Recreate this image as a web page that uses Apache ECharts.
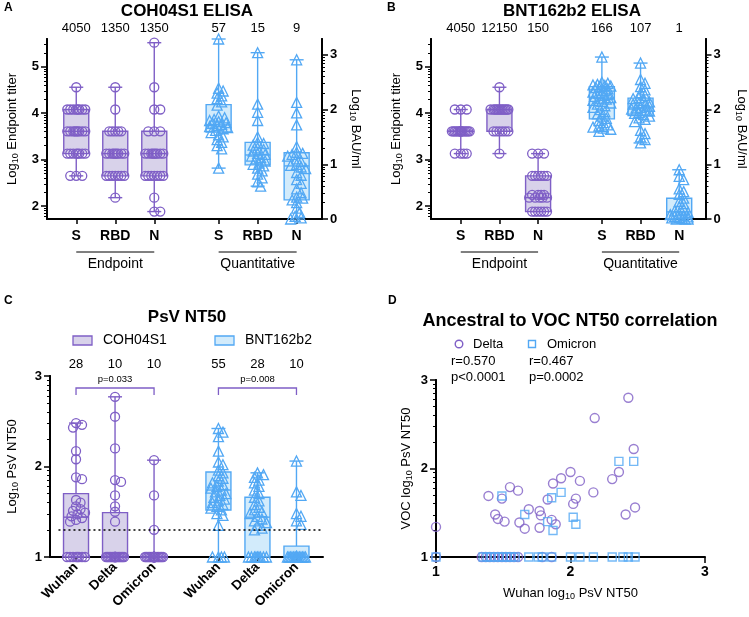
<!DOCTYPE html>
<html><head><meta charset="utf-8">
<script src="https://cdn.jsdelivr.net/npm/echarts@6/dist/echarts.min.js"></script>
<style>html,body{margin:0;padding:0;background:#fff}#c{width:749px;height:617px}</style>
</head><body><div id="c"></div>
<script>
// ---------------- DATA ----------------
const ELISA_CATS = ['S','RBD','N','S','RBD','N'];
const ELISA_GROUPS = ['Endpoint','Quantitative'];
const NT_CATS = ['Wuhan','Delta','Omicron','Wuhan','Delta','Omicron'];
const A_GMT = ['4050','1350','1350','57','15','9'];
const B_GMT = ['4050','12150','150','166','107','1'];
const C_GMT = ['28','10','10','55','28','10'];
const C_PVALS = ['p=0.033','p=0.008'];
const LEFT_TICKS = [2,3,4,5];
const RIGHT_TICKS = [0,1,2,3];
const NT_TICKS = [1,2,3];
const LOD = 1.30;

// Panel A – COH04S1 ELISA (endpoint: log10 titer; quantitative: log10 BAU/ml)
const A_END_S   = [4.56,4.08,4.08,4.08,4.08,4.08,4.08,4.08,4.08,3.61,3.61,3.61,3.61,3.61,3.61,3.61,3.61,3.61,3.13,3.13,3.13,3.13,3.13,3.13,3.13,3.13,2.65,2.65,2.65];
const A_END_RBD = [4.56,4.08,3.61,3.61,3.61,3.61,3.61,3.13,3.13,3.13,3.13,3.13,3.13,3.13,3.13,3.13,2.65,2.65,2.65,2.65,2.65,2.65,2.65,2.18];
const A_END_N   = [5.52,4.56,4.08,4.08,3.61,3.61,3.61,3.13,3.13,3.13,3.13,3.13,3.13,3.13,3.13,3.13,2.65,2.65,2.65,2.65,2.65,2.65,2.65,2.18,1.88,1.88];
const A_QNT_S   = [3.29,2.39,2.34,2.30,2.25,2.20,2.14,2.08,1.88,1.85,1.82,1.80,1.78,1.76,1.75,1.73,1.71,1.69,1.67,1.65,1.62,1.58,1.54,1.50,1.45,1.40,1.34,1.28,0.93];
const A_QNT_RBD = [3.04,2.10,1.95,1.80,1.50,1.40,1.38,1.35,1.30,1.27,1.24,1.20,1.18,1.15,1.12,1.10,1.06,1.02,1.00,0.97,0.93,0.88,0.82,0.75,0.68,0.60];
const A_QNT_N   = [2.91,2.13,1.94,1.72,1.32,1.22,1.20,1.18,1.15,1.10,1.05,1.00,0.98,0.95,0.92,0.85,0.80,0.72,0.65,0.55,0.48,0.40,0.38,0.35,0.30,0.20,0.12,0.05,0.02,0.00];
// box stats [min, q1, median, q3, max]
const A_BOX = [[2.65,3.13,3.61,4.08,4.56],[2.18,2.65,3.13,3.61,4.56],[1.88,2.65,3.13,3.61,5.52],
               [0.93,1.59,1.72,2.09,3.29],[0.60,0.99,1.17,1.40,3.04],[0.00,0.35,0.97,1.21,2.91]];

// Panel B – BNT162b2 ELISA
const B_END_S   = [4.08,4.08,4.08,3.61,3.61,3.61,3.61,3.61,3.61,3.61,3.61,3.61,3.61,3.61,3.61,3.61,3.61,3.61,3.61,3.13,3.13,3.13,3.13];
const B_END_RBD = [4.56,4.08,4.08,4.08,4.08,4.08,4.08,4.08,4.08,4.08,4.08,4.08,4.08,3.61,3.61,3.61,3.61,3.61,3.61,3.13];
const B_END_N   = [3.13,3.13,3.13,2.65,2.65,2.65,2.65,2.65,2.65,2.24,2.24,2.24,2.24,2.18,2.18,2.18,2.18,2.18,1.88,1.88,1.88,1.88,1.88,1.88];
const B_QNT_S   = [2.96,2.50,2.48,2.46,2.45,2.44,2.43,2.42,2.40,2.38,2.35,2.32,2.30,2.28,2.26,2.24,2.22,2.21,2.19,2.17,2.15,2.12,2.10,2.07,2.04,2.00,1.96,1.92,1.88,1.84,1.80,1.76,1.72,1.70,1.68,1.66,1.64,1.60];
const B_QNT_RBD = [2.85,2.55,2.48,2.42,2.36,2.31,2.26,2.22,2.20,2.17,2.14,2.12,2.10,2.08,2.06,2.04,2.03,2.01,1.99,1.97,1.95,1.93,1.91,1.88,1.85,1.82,1.78,1.62,1.56,1.50,1.45,1.39];
const B_QNT_N   = [0.90,0.78,0.72,0.55,0.50,0.45,0.38,0.32,0.28,0.22,0.18,0.15,0.12,0.10,0.08,0.06,0.05,0.04,0.03,0.02,0.01,0.00,0.00,0.00];
const B_BOX = [[3.13,3.61,3.61,3.61,4.08],[3.13,3.61,4.08,4.08,4.56],[1.88,1.88,2.18,2.65,3.13],
               [1.60,1.83,2.21,2.42,2.96],[1.39,1.89,2.03,2.21,2.85],[0.00,0.00,0.13,0.38,0.90]];

// Panel C – PsV NT50 (log10)
const C_COH_WUHAN = [2.48,2.46,2.43,2.17,2.08,1.88,1.86,1.63,1.60,1.56,1.53,1.51,1.49,1.47,1.45,1.43,1.41,1.39,1,1,1,1,1,1,1,1];
const C_COH_DELTA = [2.77,2.55,2.20,1.85,1.83,1.68,1.56,1.50,1.39,1,1,1,1,1,1,1,1,1,1,1,1,1,1,1,1,1];
const C_COH_OMI   = [2.07,1.68,1.30,1,1,1,1,1,1,1,1,1,1,1,1,1,1,1,1,1,1,1,1,1,1,1];
const C_BNT_WUHAN = [2.42,2.38,2.33,2.17,2.05,2.02,1.96,1.93,1.90,1.87,1.84,1.82,1.80,1.78,1.76,1.74,1.72,1.70,1.68,1.66,1.64,1.62,1.60,1.58,1.56,1.54,1.52,1.48,1.46,1.35,1,1,1,1];
const C_BNT_DELTA = [1.93,1.91,1.88,1.85,1.82,1.78,1.74,1.70,1.66,1.62,1.58,1.55,1.52,1.50,1.48,1.45,1.42,1.40,1.38,1.35,1.32,1.30,1,1,1,1,1,1,1,1,1];
const C_BNT_OMI   = [2.06,1.72,1.68,1.48,1.45,1.40,1.36,1,1,1,1,1,1,1,1,1,1,1,1,1,1,1,1,1,1,1,1,1,1,1,1];
const C_BOX = [[1,1,1.44,1.70,2.48],[1,1,1,1.49,2.77],[1,1,1,1,2.07],
               [1,1.52,1.74,1.94,2.42],[1,1,1.44,1.66,1.93],[1,1,1,1.12,2.06]];

// Panel D – Wuhan vs VOC NT50
const D_DELTA_WUHAN = [1.00,1.39,1.49,1.55,1.61,1.44,1.46,1.51,1.62,1.66,1.69,1.77,1.78,1.77,1.83,1.87,1.93,1.86,1.89,2.00,2.07,2.02,2.04,2.17,2.31,2.36,2.41,2.48,2.47,2.18,2.43,
                       1.00,1.34,1.37,1.40,1.43,1.46,1.49,1.52,1.55,1.58,1.61,1.79,1.86];
const D_DELTA_VOC   = [1.34,1.69,1.66,1.79,1.75,1.48,1.43,1.40,1.39,1.32,1.54,1.52,1.47,1.33,1.65,1.83,1.89,1.42,1.37,1.96,1.86,1.60,1.66,1.73,1.88,1.96,1.48,1.56,2.22,2.57,2.80,
                       1,1,1,1,1,1,1,1,1,1,1,1,1];
const D_OMI_WUHAN = [1.49,1.66,1.83,1.87,1.86,1.93,2.02,2.04,2.36,2.47,
                     1.00,1.35,1.38,1.41,1.44,1.47,1.50,1.53,1.56,1.59,1.69,1.76,1.79,1.86,2.00,2.07,2.17,2.31,2.39,2.43,2.48];
const D_OMI_VOC   = [1.69,1.48,1.40,1.30,1.67,1.73,1.45,1.37,2.08,2.08,
                     1,1,1,1,1,1,1,1,1,1,1,1,1,1,1,1,1,1,1,1,1];
const D_STATS = [['Delta','r=0.570','p<0.0001'],['Omicron','r=0.467','p=0.0002']];

// ---------------- STYLE / LAYOUT ----------------
const FONT = '"Liberation Sans", Arial, Helvetica, sans-serif';
const PURPLE = '#7f5fc6';
const PURPLE_FILL = '#d8d2ea';
const BLUE = '#52a8f4';
const BLUE_FILL = '#d2ebfb';
const POS = [1,2,3,4.65,5.65,6.65];
const PX_X = 39;

function logMinor(min, max){
  const out=[];
  for(let d=Math.floor(min); d<Math.ceil(max); d++){
    for(let k=2;k<=9;k++){ const v=d+Math.log10(k); if(v>min+1e-6 && v<max-1e-6) out.push(+v.toFixed(4)); }
  }
  return out;
}
const subRich = {
  n:{fontSize:13, fontFamily:FONT, color:'#000', lineHeight:16},
  s:{fontSize:9, fontFamily:FONT, color:'#000', verticalAlign:'bottom'}
};
function yPair(gridIndex, min, max, position, majors, name, nameGap, nameRotate){
  const common = {type:'value', gridIndex, min, max, position, splitLine:{show:false}};
  return [
    Object.assign({}, common, {
      axisLine:{show:true, onZero:false, lineStyle:{color:'#000', width:2}},
      axisTick:{show:true, customValues:majors, length:6, lineStyle:{color:'#000', width:1.5}},
      axisLabel:{show:true, customValues:majors, color:'#000', fontFamily:FONT, fontWeight:'bold', fontSize:13, margin:8},
      name, nameLocation:'middle', nameGap, nameRotate,
      nameTextStyle:{rich:subRich, color:'#000'}
    }),
    Object.assign({}, common, {
      axisLine:{show:true, onZero:false, lineStyle:{color:'#000', width:2}},
      axisTick:{show:true, customValues:logMinor(min,max), length:3, lineStyle:{color:'#000', width:1}},
      axisLabel:{show:false}
    })
  ];
}
function nearestIdx(v){ let bi=0,bd=1e9; POS.forEach((p,i)=>{const d=Math.abs(p-v); if(d<bd){bd=d;bi=i;}}); return bi; }
function xCat(gridIndex, min, max, names, rotate){
  return {type:'value', gridIndex, min, max, splitLine:{show:false},
    axisLine:{onZero:false, lineStyle:{color:'#000', width:2}},
    axisTick:{customValues:POS, length:5, lineStyle:{color:'#000', width:1.5}},
    axisLabel:{customValues:POS, formatter:v=>names[nearestIdx(v)], color:'#000', fontFamily:FONT,
      fontWeight:'bold', fontSize:rotate?13.5:14, margin:rotate?8:10, rotate:rotate||0}};
}

function swarm(vals, pxY, minDist, maxHalf){
  const n=vals.length, offs=new Array(n).fill(0);
  const order=vals.map((v,i)=>i).sort((a,b)=>vals[b]-vals[a]||a-b);
  const step=1.5, cands=[0];
  for(let s=step;s<=maxHalf+1e-9;s+=step){cands.push(s);cands.push(-s);}
  const placed=[];
  for(const i of order){
    const y=vals[i]*pxY; let best=0,bestD=-1;
    for(const c of cands){
      let md=Infinity;
      for(const p of placed){const d=Math.hypot(c-p[0],y-p[1]); if(d<md)md=d;}
      if(md>=minDist){best=c;bestD=md;break;}
      if(md>bestD){bestD=md;best=c;}
    }
    offs[i]=best; placed.push([best,y]);
  }
  return offs;
}
function pts(xi, yi, pos, vals, pxY, symbol, color, size){
  const offs=swarm(vals, pxY, 5, 10);
  return {type:'scatter', xAxisIndex:xi, yAxisIndex:yi, symbol, symbolSize:size, silent:true, z:4,
    data: vals.map((v,i)=>[pos+offs[i]/PX_X, v]),
    itemStyle:{color:'rgba(0,0,0,0)', borderColor:color, borderWidth:1.3, opacity:1}};
}
function boxes(xi, yi, posList, stats, stroke, fill){
  return {type:'custom', xAxisIndex:xi, yAxisIndex:yi, silent:true, z:2,
    data: stats.map((s,i)=>[posList[i]].concat(s)),
    renderItem(params, api){
      const x=api.value(0);
      const pLo=api.coord([x,api.value(1)]), pQ1=api.coord([x,api.value(2)]), pMed=api.coord([x,api.value(3)]),
            pQ3=api.coord([x,api.value(4)]), pHi=api.coord([x,api.value(5)]);
      const hw=12.5, cw=7, ls={stroke, lineWidth:1.4};
      return {type:'group', children:[
        {type:'line', shape:{x1:pLo[0],y1:pLo[1],x2:pQ1[0],y2:pQ1[1]}, style:ls},
        {type:'line', shape:{x1:pQ3[0],y1:pQ3[1],x2:pHi[0],y2:pHi[1]}, style:ls},
        {type:'rect', shape:{x:pQ3[0]-hw, y:pQ3[1], width:2*hw, height:Math.max(pQ1[1]-pQ3[1],0.01)}, style:{fill, stroke, lineWidth:1.4}},
        {type:'line', shape:{x1:pMed[0]-hw,y1:pMed[1],x2:pMed[0]+hw,y2:pMed[1]}, style:ls},
        {type:'line', shape:{x1:pLo[0]-cw,y1:pLo[1],x2:pLo[0]+cw,y2:pLo[1]}, style:ls},
        {type:'line', shape:{x1:pHi[0]-cw,y1:pHi[1],x2:pHi[0]+cw,y2:pHi[1]}, style:ls}
      ]};
    }};
}

// ---------------- OPTION ----------------
const AB_LEFT = [1.72, 5.60], AB_RIGHT = [0, 3.29];
const PXY_L = 180/(AB_LEFT[1]-AB_LEFT[0]), PXY_R = 180/(AB_RIGHT[1]-AB_RIGHT[0]), PXY_C = 181/2;
const yA = yPair(0, AB_LEFT[0], AB_LEFT[1], 'left', LEFT_TICKS, '{n|Log}{s|10}{n| Endpoint titer}', 27, 90)
  .concat(yPair(0, AB_RIGHT[0], AB_RIGHT[1], 'right', RIGHT_TICKS, '{n|Log}{s|10}{n| BAU/ml}', 26, -90));
const yB = yPair(1, AB_LEFT[0], AB_LEFT[1], 'left', LEFT_TICKS, '{n|Log}{s|10}{n| Endpoint titer}', 27, 90)
  .concat(yPair(1, AB_RIGHT[0], AB_RIGHT[1], 'right', RIGHT_TICKS, '{n|Log}{s|10}{n| BAU/ml}', 28, -90));
const yC = yPair(2, 1, 3, 'left', NT_TICKS, '{n|Log}{s|10}{n| PsV NT50}', 30, 90);
const yD = yPair(3, 1, 3, 'left', NT_TICKS, '{n|VOC log}{s|10}{n| PsV NT50}', 22, 90);

const xD = {type:'value', gridIndex:3, min:1, max:3, splitLine:{show:false},
  axisLine:{onZero:false, lineStyle:{color:'#000', width:2}},
  axisTick:{customValues:NT_TICKS, length:6, lineStyle:{color:'#000', width:1.5}},
  axisLabel:{customValues:NT_TICKS, color:'#000', fontFamily:FONT, fontWeight:'bold', fontSize:14, margin:8},
  name:'{n|Wuhan log}{s|10}{n| PsV NT50}', nameLocation:'middle', nameGap:28, nameTextStyle:{rich:subRich, color:'#000'}};

const A_END = [A_END_S, A_END_RBD, A_END_N], A_QNT = [A_QNT_S, A_QNT_RBD, A_QNT_N];
const B_END = [B_END_S, B_END_RBD, B_END_N], B_QNT = [B_QNT_S, B_QNT_RBD, B_QNT_N];
const C_COH = [C_COH_WUHAN, C_COH_DELTA, C_COH_OMI], C_BNT = [C_BNT_WUHAN, C_BNT_DELTA, C_BNT_OMI];

const series = [];
// Panel A
series.push(boxes(0,0,POS.slice(0,3),A_BOX.slice(0,3),PURPLE,PURPLE_FILL));
series.push(boxes(0,2,POS.slice(3),A_BOX.slice(3),BLUE,BLUE_FILL));
A_END.forEach((v,i)=>series.push(pts(0,0,POS[i],v,PXY_L,'circle',PURPLE,9)));
A_QNT.forEach((v,i)=>series.push(pts(0,2,POS[i+3],v,PXY_R,'triangle',BLUE,10)));
// Panel B
series.push(boxes(1,4,POS.slice(0,3),B_BOX.slice(0,3),PURPLE,PURPLE_FILL));
series.push(boxes(1,6,POS.slice(3),B_BOX.slice(3),BLUE,BLUE_FILL));
B_END.forEach((v,i)=>series.push(pts(1,4,POS[i],v,PXY_L,'circle',PURPLE,9)));
B_QNT.forEach((v,i)=>series.push(pts(1,6,POS[i+3],v,PXY_R,'triangle',BLUE,10)));
// Panel C
series.push(boxes(2,8,POS.slice(0,3),C_BOX.slice(0,3),PURPLE,PURPLE_FILL));
series.push(boxes(2,8,POS.slice(3),C_BOX.slice(3),BLUE,BLUE_FILL));
C_COH.forEach((v,i)=>series.push(pts(2,8,POS[i],v,PXY_C,'circle',PURPLE,9)));
C_BNT.forEach((v,i)=>series.push(pts(2,8,POS[i+3],v,PXY_C,'triangle',BLUE,10)));
series.push({type:'line', xAxisIndex:2, yAxisIndex:8, data:[], silent:true, z:5,
  markLine:{silent:true, symbol:['none','none'], label:{show:false},
    lineStyle:{color:'#000', type:[2,3], width:1.6},
    data:[[{coord:[0.55, LOD]},{coord:[7.33, LOD]}]]}});
// Panel D
series.push({type:'scatter', xAxisIndex:3, yAxisIndex:10, symbol:'circle', symbolSize:9, silent:true, z:4,
  data:D_DELTA_WUHAN.map((x,i)=>[x, D_DELTA_VOC[i]]),
  itemStyle:{color:'rgba(0,0,0,0)', borderColor:PURPLE, borderWidth:1.4}});
series.push({type:'scatter', xAxisIndex:3, yAxisIndex:10, symbol:'rect', symbolSize:8, silent:true, z:5,
  data:D_OMI_WUHAN.map((x,i)=>[x, D_OMI_VOC[i]]),
  itemStyle:{color:'rgba(0,0,0,0)', borderColor:BLUE, borderWidth:1.4}});

const option = {
  animation:false,
  backgroundColor:'#fff',
  textStyle:{fontFamily:FONT},
  grid:[
    {left:47, top:39, width:275, height:180},
    {left:431, top:39, width:277, height:180},
    {left:50, top:376, width:273, height:181},
    {left:436, top:380, width:269, height:177}
  ],
  xAxis:[
    xCat(0, 0.25, 7.30, ELISA_CATS),
    xCat(1, 0.23, 7.33, ELISA_CATS),
    xCat(2, 0.333, 7.33, NT_CATS, 45),
    xD
  ],
  yAxis: yA.concat(yB, yC, yD),
  series
};

const chart = echarts.init(document.getElementById('c'), null, {width:749, height:617});
chart.setOption(option);

// ---------------- ANNOTATIONS ----------------
const g = [];
function T(x, y, text, size, weight, align, extra){
  g.push({type:'text', x, y, silent:true, style:Object.assign({text, fill:'#000', fontFamily:FONT, fontSize:size,
    fontWeight:weight||'normal', align:align||'center', verticalAlign:'middle'}, extra||{})});
}
function L(x1,y1,x2,y2,stroke,w){ g.push({type:'line', silent:true, shape:{x1,y1,x2,y2}, style:{stroke:stroke||'#000', lineWidth:w||1}}); }
const cx = (xi, v) => chart.convertToPixel({xAxisIndex:xi}, v);

// panel letters & titles
T(4,8,'A',12,'bold','left'); T(387,8,'B',12,'bold','left');
T(4,301,'C',12,'bold','left'); T(388,301,'D',12,'bold','left');
T(187,11,'COH04S1 ELISA',17,'bold'); T(572,11,'BNT162b2 ELISA',17,'bold');
T(187,317,'PsV NT50',17,'bold'); T(570,321,'Ancestral to VOC NT50 correlation',18,'bold');

// GMT rows
A_GMT.forEach((t,i)=>T(cx(0,POS[i]),28,t,13));
B_GMT.forEach((t,i)=>T(cx(1,POS[i]),28,t,13));
C_GMT.forEach((t,i)=>T(cx(2,POS[i]),364,t,13));

// group lines A/B
[0,1].forEach(xi=>{
  [[0,2],[3,5]].forEach((r,gi)=>{
    const x1=cx(xi,POS[r[0]]), x2=cx(xi,POS[r[1]]);
    L(x1,252,x2,252,'#000',1);
    T((x1+x2)/2,264,ELISA_GROUPS[gi],14);
  });
});

// brackets C
[[0,2,PURPLE],[3,5,PURPLE]].forEach((b,i)=>{
  const x1=cx(2,POS[b[0]]), x2=cx(2,POS[b[1]]);
  g.push({type:'polyline', silent:true, shape:{points:[[x1,395],[x1,388],[x2,388],[x2,395]]}, style:{stroke:b[2], lineWidth:1.3, fill:null}});
  T((x1+x2)/2,379,C_PVALS[i],9.5);
});

// legend C
g.push({type:'rect', silent:true, shape:{x:73,y:336,width:19,height:9}, style:{fill:PURPLE_FILL, stroke:PURPLE, lineWidth:1.3}});
T(103,340.5,'COH04S1',14,'normal','left');
g.push({type:'rect', silent:true, shape:{x:215,y:336,width:19,height:9}, style:{fill:BLUE_FILL, stroke:BLUE, lineWidth:1.3}});
T(245,340.5,'BNT162b2',14,'normal','left');

// legend D
g.push({type:'circle', silent:true, shape:{cx:459,cy:344,r:3.8}, style:{fill:'none', stroke:PURPLE, lineWidth:1.4}});
T(473,344,D_STATS[0][0],13,'normal','left');
g.push({type:'rect', silent:true, shape:{x:528.5,y:340.5,width:7,height:7}, style:{fill:'none', stroke:BLUE, lineWidth:1.4}});
T(547,344,D_STATS[1][0],13,'normal','left');
T(451,361,D_STATS[0][1],13,'normal','left'); T(451,377,D_STATS[0][2],13,'normal','left');
T(529,361,D_STATS[1][1],13,'normal','left'); T(529,377,D_STATS[1][2],13,'normal','left');

chart.setOption({graphic:g});
</script></body></html>
